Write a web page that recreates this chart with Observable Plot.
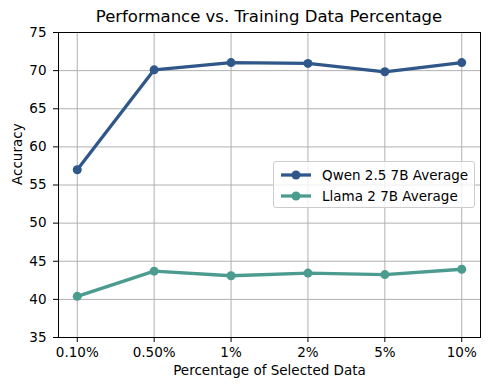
<!DOCTYPE html>
<html>
<head>
<meta charset="utf-8">
<script src="https://cdn.jsdelivr.net/npm/d3@7"></script>
<script src="https://cdn.jsdelivr.net/npm/@observablehq/plot@0.6"></script>
<style>
  body { margin: 0; background: white; font-family: "DejaVu Sans", sans-serif; }
  #wrap { width: 490px; height: 390px; position: relative; }
  #title { position: absolute; left: 58px; width: 422px; top: 7px; text-align: center;
           font-size: 16.5px; color: #000; line-height: 20px; }
  #chart { position: absolute; left: 0; top: 22px; }
</style>
</head>
<body>
<div id="wrap">
  <div id="title">Performance vs. Training Data Percentage</div>
  <div id="chart"></div>
</div>
<script>
const categories = ["0.10%", "0.50%", "1%", "2%", "5%", "10%"];
const qwenValues = [57.0, 70.1, 71.05, 70.95, 69.85, 71.05];
const llamaValues = [40.4, 43.7, 43.1, 43.45, 43.25, 43.95];
const seriesNames = ["Qwen 2.5 7B Average", "Llama 2 7B Average"];
const seriesColors = ["#30578a", "#4b9b8f"];
const yTicks = [35, 40, 45, 50, 55, 60, 65, 70, 75];

const data = [
  ...categories.map((c, i) => ({cat: c, value: qwenValues[i], series: seriesNames[0]})),
  ...categories.map((c, i) => ({cat: c, value: llamaValues[i], series: seriesNames[1]}))
];

const chart = Plot.plot({
  width: 490,
  height: 368,
  marginTop: 10,
  marginBottom: 53,
  marginLeft: 58,
  marginRight: 10,
  style: {fontFamily: "DejaVu Sans, sans-serif", fontSize: "13.5px", color: "#000", overflow: "visible"},
  x: {type: "point", domain: categories, padding: 0.244, round: false, label: null},
  y: {domain: [35, 75], ticks: yTicks, label: null},
  color: {domain: seriesNames, range: seriesColors},
  marks: [
    Plot.gridX(categories, {stroke: "#b0b0b0", strokeOpacity: 1, strokeWidth: 1}),
    Plot.gridY(yTicks, {stroke: "#b0b0b0", strokeOpacity: 1, strokeWidth: 1}),
    Plot.axisX({tickSize: 5, tickPadding: 5, stroke: "#000", fontSize: 13.5}),
    Plot.axisY({ticks: yTicks, tickSize: 5, tickPadding: 7, stroke: "#000", fontSize: 13.5}),
    Plot.text(["Percentage of Selected Data"], {frameAnchor: "bottom", dy: 37, fontSize: 13.5}),
    Plot.text(["Accuracy"], {frameAnchor: "left", dx: -41, rotate: -90, fontSize: 13.5}),
    Plot.line(data, {x: "cat", y: "value", z: "series", stroke: "series", strokeWidth: 3.3}),
    Plot.dot(data, {x: "cat", y: "value", fill: "series", r: 4.5}),
    Plot.frame({stroke: "#000", strokeWidth: 1})
  ]
});
document.getElementById("chart").appendChild(chart);

// legend drawn inside the plot area, as HTML overlay
const legend = document.createElement("div");
legend.style.cssText = "position:absolute;left:273px;top:161px;width:202px;height:47px;" +
  "background:rgba(255,255,255,0.8);border:1px solid #cccccc;border-radius:3px;box-sizing:border-box;" +
  "font-size:13.5px;font-family:'DejaVu Sans',sans-serif;";
seriesNames.forEach((name, i) => {
  const row = document.createElement("div");
  row.style.cssText = "position:absolute;left:5px;top:" + (3 + i * 21) + "px;height:20px;display:flex;align-items:center;";
  row.innerHTML = `<svg width="34" height="20"><line x1="2" x2="32" y1="10" y2="10" stroke="${seriesColors[i]}" stroke-width="3.3"/><circle cx="17" cy="10" r="4.5" fill="${seriesColors[i]}"/></svg><span style="margin-left:9px">${name}</span>`;
  legend.appendChild(row);
});
document.getElementById("wrap").appendChild(legend);
</script>
</body>
</html>
